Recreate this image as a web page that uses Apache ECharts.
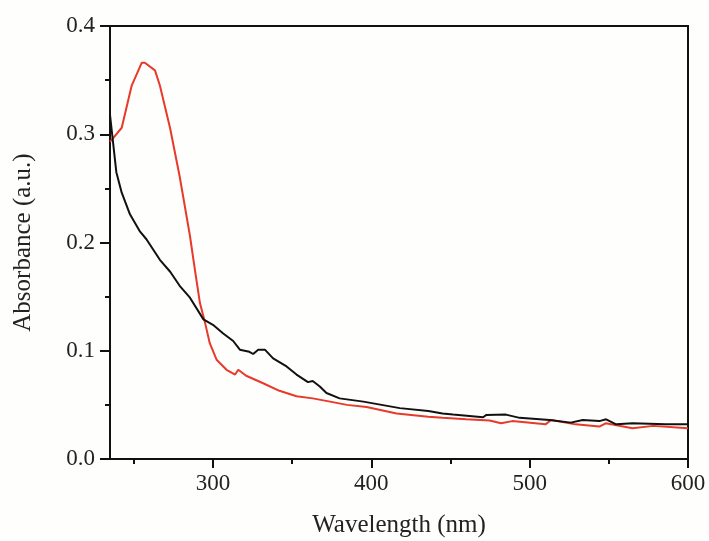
<!DOCTYPE html>
<html>
<head>
<meta charset="utf-8">
<script src="https://cdn.jsdelivr.net/npm/echarts@6/dist/echarts.min.js"></script>
<style>
html,body{margin:0;padding:0;background:#fefefc;}
#chart{width:709px;height:541px;}
</style>
</head>
<body>
<div id="chart"></div>
<script>
var xTicks = [300, 400, 500, 600];
var xMinorTicks = [250, 350, 450, 550];
var yTicks = [0.0, 0.1, 0.2, 0.3, 0.4];

var blackWl = [235, 239, 242.4, 247.6, 254, 258, 266.5, 273, 279, 285.5, 294, 300, 306.5, 312.8, 317, 323, 325.4, 328.6, 332.8, 338, 346.5, 352.8, 360, 363, 367.5, 371.7, 380, 395, 418, 436, 445, 451.6, 470.6, 472.7, 485, 493.7, 512.6, 526, 533.5, 544, 548.3, 554.6, 565, 586, 600];
var blackAbs = [0.318, 0.265, 0.246, 0.226, 0.210, 0.203, 0.184, 0.173, 0.160, 0.149, 0.129, 0.124, 0.116, 0.109, 0.101, 0.099, 0.097, 0.101, 0.101, 0.093, 0.0855, 0.078, 0.071, 0.072, 0.067, 0.061, 0.056, 0.053, 0.047, 0.0444, 0.042, 0.041, 0.0386, 0.0407, 0.041, 0.038, 0.036, 0.0336, 0.036, 0.035, 0.0367, 0.032, 0.033, 0.032, 0.032];

var redWl = [235, 242.4, 248.7, 255, 257, 263.4, 266.5, 272.9, 279, 285.5, 288.6, 291.8, 295, 298, 302.3, 308.6, 314, 316, 321, 331.7, 342, 352.8, 363, 374, 384.6, 397, 416, 436, 445, 460, 474.7, 482, 489, 510, 513.6, 529, 544, 548, 565, 578, 600];
var redAbs = [0.293, 0.306, 0.345, 0.366, 0.366, 0.359, 0.345, 0.306, 0.261, 0.206, 0.175, 0.144, 0.126, 0.107, 0.0917, 0.0824, 0.078, 0.0824, 0.0769, 0.070, 0.063, 0.058, 0.056, 0.053, 0.050, 0.048, 0.042, 0.039, 0.038, 0.0367, 0.0355, 0.033, 0.035, 0.032, 0.036, 0.032, 0.030, 0.033, 0.0284, 0.0306, 0.0284];

function pairs(xs, ys){ return xs.map(function(x,i){ return [x, ys[i]]; }); }

var font = '"Liberation Serif", "Times New Roman", serif';
var chart = echarts.init(document.getElementById('chart'), null, {renderer:'canvas'});
chart.setOption({
  backgroundColor: '#fefefc',
  animation: false,
  grid: {left:110, right:21, top:26, bottom:82, outerBoundsMode:'none', containLabel:false, show:true, borderColor:'#111', borderWidth:2, backgroundColor:'transparent'},
  xAxis: [{
    type:'value', min:235, max:600,
    name:'Wavelength (nm)', nameLocation:'middle', nameGap:54,
    nameTextStyle:{fontFamily:font, fontSize:25, color:'#222'},
    axisLine:{show:true, lineStyle:{color:'#111', width:2}},
    axisTick:{show:true, inside:false, length:9, customValues:xTicks, lineStyle:{color:'#111', width:2}},
    axisLabel:{show:true, margin:13, customValues:xTicks, fontFamily:font, fontSize:23, color:'#222'},
    splitLine:{show:false}
  },{
    type:'value', min:235, max:600, position:'bottom',
    axisLine:{show:false},
    axisTick:{show:true, inside:false, length:5, customValues:xMinorTicks, lineStyle:{color:'#111', width:2}},
    axisLabel:{show:false},
    splitLine:{show:false}
  }],
  yAxis: {
    type:'value', min:0, max:0.4, interval:0.1,
    name:'Absorbance (a.u.)', nameLocation:'middle', nameGap:74,
    nameTextStyle:{fontFamily:font, fontSize:25, color:'#222'},
    axisLine:{show:true, lineStyle:{color:'#111', width:2}},
    axisTick:{show:true, inside:false, length:10, lineStyle:{color:'#111', width:2}},
    minorTick:{show:true, splitNumber:2, length:5, lineStyle:{color:'#111', width:2}},
    axisLabel:{margin:15, fontFamily:font, fontSize:23, color:'#222', formatter:function(v){return v.toFixed(1);}},
    splitLine:{show:false}
  },
  series: [{
    type:'line', name:'black', data:pairs(blackWl, blackAbs), showSymbol:false,
    lineStyle:{color:'#111', width:2}, z:3
  },{
    type:'line', name:'red', data:pairs(redWl, redAbs), showSymbol:false,
    lineStyle:{color:'#e8392a', width:2}, z:2
  }]
});
</script>
</body>
</html>
